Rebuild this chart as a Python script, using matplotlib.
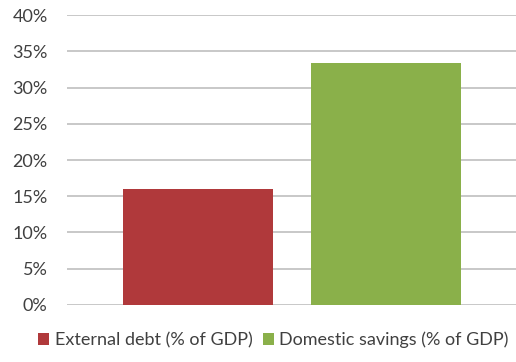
import matplotlib.pyplot as plt
from matplotlib.ticker import PercentFormatter

# Data
series = ["External debt (% of GDP)", "Domestic savings (% of GDP)"]
values = [16.0, 33.4]
colors = ["#B0393B", "#8AB04A"]
y_ticks = [0, 5, 10, 15, 20, 25, 30, 35, 40]

plt.rcParams["font.family"] = ["Lato", "DejaVu Sans"]

fig = plt.figure(figsize=(5.16, 3.62), dpi=100)
ax = fig.add_axes([0.130, 0.1575, 0.870, 0.801])

for i, (name, v, c) in enumerate(zip(series, values, colors)):
    ax.bar(i, v, width=0.8, color=c, label=name, zorder=3)

ax.set_xlim(-0.697, 1.69)
ax.set_ylim(0, 40)
ax.set_yticks(y_ticks)
ax.yaxis.set_major_formatter(PercentFormatter(decimals=0))
ax.set_xticks([])
ax.grid(axis="y", color="#BFBFBF", linewidth=1.2, zorder=0)
for s in ax.spines.values():
    s.set_visible(False)
ax.tick_params(axis="y", length=0, pad=14, labelsize=13, labelcolor="#404040")

leg = fig.legend(loc="center", bbox_to_anchor=(0.53, 0.061), ncol=2, frameon=False,
                 fontsize=13, handlelength=0.6, handleheight=0.6, handletextpad=0.3,
                 columnspacing=0.6, labelcolor="#404040")

fig.savefig("out.png", dpi=100)
